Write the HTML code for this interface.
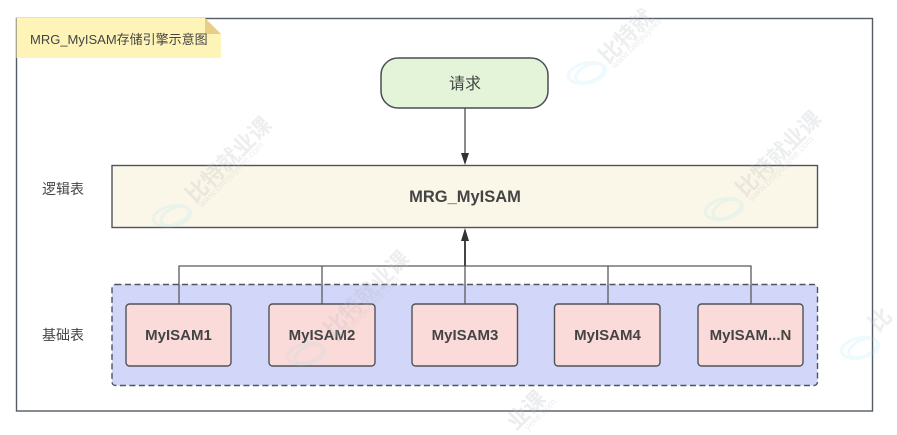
<!DOCTYPE html>
<html><head><meta charset="utf-8">
<style>
html,body{margin:0;padding:0;background:#fff;width:897px;height:435px;overflow:hidden}
svg{display:block;overflow:hidden}
text{font-family:"Liberation Sans","Noto Sans CJK SC",sans-serif;fill:#444}
.b{font-weight:700;font-size:15px;text-anchor:middle}
.wm{fill:#b8bcc0;font-size:22px;font-weight:700;opacity:.26}
.wu{fill:#b8bcc0;font-size:9.5px;opacity:.26}
</style></head><body>
<svg width="897" height="435" viewBox="0 0 897 435" xmlns="http://www.w3.org/2000/svg">
<rect x="0" y="0" width="897" height="435" fill="#fff"/>
<rect x="16.5" y="18.5" width="856" height="392.5" fill="#fff" stroke="#555b63" stroke-width="1.4"/>
<!-- note -->
<polygon points="16.5,18 205,18 221,34 221,58 16.5,58" fill="#fff4b8"/>
<polygon points="205,18 221,34 205,34" fill="#e6cf85"/>
<text x="30" y="44" font-size="13" fill="#555">MRG_MyISAM存储引擎示意图</text>
<!-- terminal -->
<rect x="381" y="58" width="167" height="50" rx="17" fill="#e3f4d8" stroke="#4a4f55" stroke-width="1.5"/>
<text x="465" y="89" font-size="16" text-anchor="middle">请求</text>
<path d="M465 108V154" stroke="#4a4a4a" stroke-width="1.3" fill="none"/>
<polygon points="461,153 469,153 465,165" fill="#333"/>
<!-- logic -->
<rect x="112" y="165.5" width="705.5" height="62" fill="#fbf7e8" stroke="#4f545a" stroke-width="1.4"/>
<text x="465" y="202" font-size="16.5" font-weight="700" text-anchor="middle">MRG_MyISAM</text>
<text x="42" y="194" font-size="14">逻辑表</text>
<text x="42" y="340" font-size="14">基础表</text>
<!-- group -->
<rect x="112" y="284.5" width="705.5" height="101" rx="3.5" fill="#d2d6f8" stroke="#50545c" stroke-width="1.4" stroke-dasharray="6 3.5"/>
<!-- connectors -->
<path d="M179 304V266H751V304M322 304V266M608 304V266M465 304V266" stroke="#5a5a5a" stroke-width="1.3" fill="none"/>
<path d="M465 266V240" stroke="#444" stroke-width="2" fill="none"/>
<polygon points="461,241 469,241 465,228" fill="#333"/>
<!-- boxes -->
<g fill="#fbdbd9" stroke="#4f5359" stroke-width="1.4">
<rect x="126" y="304" width="105" height="62" rx="3.5"/>
<rect x="269" y="304" width="106" height="62" rx="3.5"/>
<rect x="412" y="304" width="105.5" height="62" rx="3.5"/>
<rect x="554.5" y="304" width="105.5" height="62" rx="3.5"/>
<rect x="698" y="304" width="105" height="62" rx="3.5"/>
</g>
<text class="b" x="178.5" y="340">MyISAM1</text>
<text class="b" x="322" y="340">MyISAM2</text>
<text class="b" x="465" y="340">MyISAM3</text>
<text class="b" x="607.5" y="340">MyISAM4</text>
<text class="b" x="750.5" y="340">MyISAM...N</text>
<!-- watermarks -->
<g>
<g fill="none" stroke="#8fdcee" stroke-width="3" opacity=".15">
<ellipse cx="587" cy="73" rx="19" ry="10" transform="rotate(-12 587 73)"/>
<ellipse cx="590" cy="73" rx="15" ry="8" transform="rotate(-25 590 73)"/>
<ellipse cx="724" cy="209" rx="19" ry="10" transform="rotate(-12 724 209)"/>
<ellipse cx="727" cy="209" rx="15" ry="8" transform="rotate(-25 727 209)"/>
<ellipse cx="172" cy="216" rx="19" ry="10" transform="rotate(-12 172 216)"/>
<ellipse cx="175" cy="216" rx="15" ry="8" transform="rotate(-25 175 216)"/>
<ellipse cx="860" cy="348" rx="19" ry="10" transform="rotate(-12 860 348)"/>
<ellipse cx="863" cy="348" rx="15" ry="8" transform="rotate(-25 863 348)"/>
<ellipse cx="306" cy="354" rx="19" ry="10" transform="rotate(-12 306 354)"/>
<ellipse cx="309" cy="354" rx="15" ry="8" transform="rotate(-25 309 354)"/>
</g>
<text class="wm" transform="translate(195,204) rotate(-45)">比特就业课</text>
<text class="wu" transform="translate(202,208) rotate(-45)">www.bitejiuyeke.com</text>
<text class="wm" transform="translate(608,65) rotate(-45)">比特就</text>
<text class="wu" transform="translate(615,69) rotate(-45)">www.bitejiuyeke</text>
<text class="wm" transform="translate(745,198) rotate(-45)">比特就业课</text>
<text class="wu" transform="translate(752,202) rotate(-45)">www.bitejiuyeke.com</text>
<text class="wm" transform="translate(333,338) rotate(-45)">比特就业课</text>
<text class="wu" transform="translate(338,343) rotate(-45)">www.bitejiuyeke.com</text>
<text class="wm" transform="translate(516,431) rotate(-45)">业课</text>
<text class="wu" transform="translate(528,431) rotate(-45)">yeke.com</text>
<text class="wm" transform="translate(878,333) rotate(-45)">比</text>
</g>
</svg>
</body></html>
